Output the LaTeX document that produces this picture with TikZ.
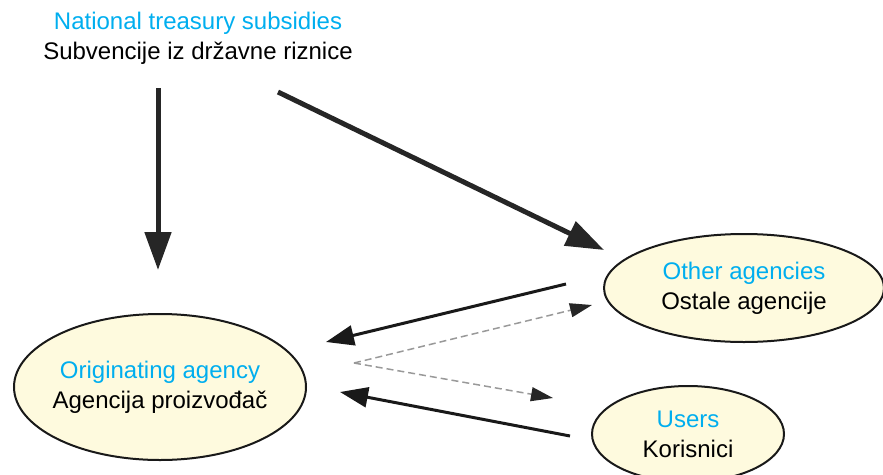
\documentclass[tikz,border=0pt]{standalone}
\usepackage{fontspec}
\setmainfont{Liberation Sans}
\usetikzlibrary{arrows.meta,shapes.geometric}
\definecolor{labelblue}{RGB}{0,174,239}
\definecolor{agencyfill}{RGB}{254,250,222}
\tikzstyle{label text}=[align=center,font=\fontsize{24}{30}\selectfont]
\tikzstyle{agency}=[label text,ellipse,draw=black!90,line width=2pt,fill=agencyfill,inner sep=0pt]
\tikzstyle{funding}=[draw=black!85,line width=5pt,-{Triangle[length=38pt,width=26pt]}]
\tikzstyle{flow}=[draw=black!90,line width=3pt,-{Triangle[length=28pt,width=20pt]}]
\tikzstyle{feedback}=[draw=black!40,dash pattern=on 7pt off 4pt,line width=1.5pt,-{Triangle[length=22pt,width=14pt,color=black!85]}]

\begin{document}
\begin{tikzpicture}[x=1pt,y=-1pt]
    \clip (0,0) rectangle (883,474);
    % the source of the money and the three agencies
    \node[label text] (treasury) at (198,38) {\textcolor{labelblue}{National treasury subsidies}\\Subvencije iz državne riznice};
    \node[agency,inner xsep=-12pt,minimum width=292pt,minimum height=146pt] (orig) at (160,387) {\textcolor{labelblue}{Originating agency}\\Agencija proizvođač};
    \node[agency,minimum width=280pt,minimum height=108pt] (other) at (744,288) {\textcolor{labelblue}{Other agencies}\\Ostale agencije};
    \node[agency,minimum width=192pt,minimum height=96pt] (users) at (688,434) {\textcolor{labelblue}{Users}\\Korisnici};

    % free ends of the arrows
    \foreach \x/\y/\name in {158/88/fundA,158/270/fundAtip,278/92/fundB,604/250/fundBtip,
                             566/284/fromOther,326/342/fromOthertip,570/436/fromUsers,340/392/fromUserstip,
                             354/363/split,592/305/toOthertip,553/398/toUserstip}
        \coordinate (\name) at (\x,\y);

    % connect them
    \foreach \source/\dest/\kind in {fundA/fundAtip/funding,fundB/fundBtip/funding,
                                     fromOther/fromOthertip/flow,fromUsers/fromUserstip/flow,
                                     split/toOthertip/feedback,split/toUserstip/feedback}
        \path[\kind] (\source) -- (\dest);
\end{tikzpicture}
\end{document}
